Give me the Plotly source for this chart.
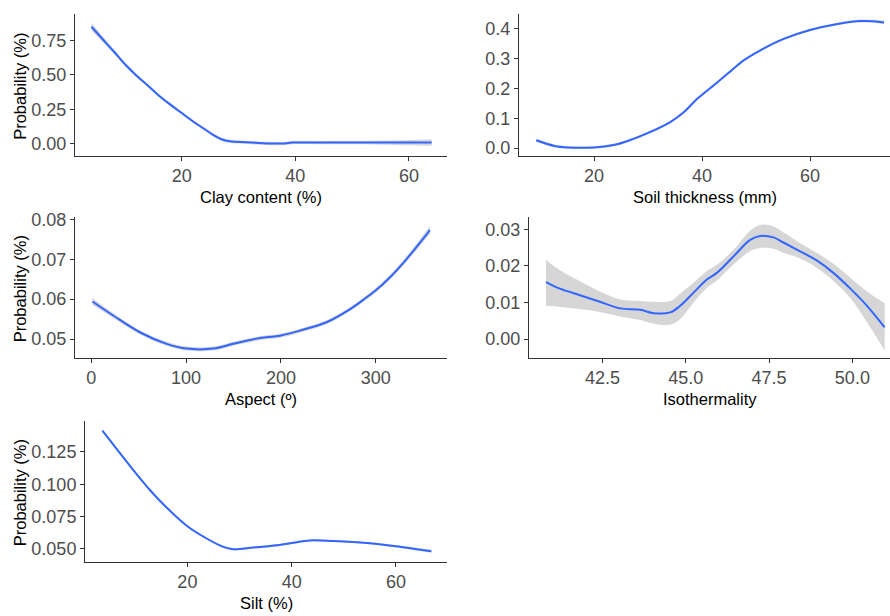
import plotly.graph_objects as go

W, H = 890, 616

# ---- Data ----
clay_x = [4.1, 6, 8, 10, 12, 14, 16, 18, 20, 22, 24, 25.5, 27, 28.5, 31.3, 33, 35, 36.5, 38.2, 39.4, 45, 50, 55, 60, 64]
clay_y = [0.85, 0.763, 0.672, 0.578, 0.497, 0.424, 0.35, 0.285, 0.224, 0.163, 0.108, 0.066, 0.034, 0.019, 0.012, 0.008, 0.004, 0.003, 0.004, 0.01, 0.01, 0.01, 0.01, 0.01, 0.01]
clay_se = [0.028, 0.022, 0.017, 0.014, 0.012, 0.011, 0.011, 0.011, 0.011, 0.011, 0.011, 0.011, 0.012, 0.012, 0.012, 0.012, 0.012, 0.012, 0.012, 0.012, 0.012, 0.013, 0.015, 0.019, 0.024]

soil_x = [9.3, 12.7, 15.2, 20, 23.6, 26.1, 29.8, 34.1, 36.6, 39.1, 42.8, 45.3, 47.7, 50.8, 55.1, 60, 65.6, 69.3, 71.7, 73.7]
soil_y = [0.026, 0.007, 0.002, 0.002, 0.01, 0.023, 0.049, 0.087, 0.12, 0.165, 0.22, 0.258, 0.294, 0.328, 0.366, 0.396, 0.418, 0.426, 0.425, 0.421]
soil_se = [0.006, 0.005, 0.004, 0.004, 0.004, 0.004, 0.004, 0.004, 0.004, 0.004, 0.004, 0.004, 0.004, 0.004, 0.004, 0.004, 0.004, 0.005, 0.005, 0.006]

asp_x = [1.4, 23.2, 51.3, 79.5, 100.6, 128.7, 149.8, 174.4, 200, 220, 248, 273, 286, 300, 315, 329, 343, 357]
asp_y = [0.0594, 0.0559, 0.0517, 0.0488, 0.0476, 0.0476, 0.0488, 0.0501, 0.0509, 0.0521, 0.0542, 0.0575, 0.0597, 0.0622, 0.0655, 0.0691, 0.0731, 0.0773]
asp_se = [0.0009, 0.0006, 0.0005, 0.0005, 0.0005, 0.0005, 0.0005, 0.0005, 0.0005, 0.0005, 0.0005, 0.0005, 0.0005, 0.0006, 0.0006, 0.0007, 0.0008, 0.0010]

iso_x = [40.8, 41.22, 41.82, 42.42, 43.03, 43.63, 44.03, 44.53, 44.83, 45.23, 45.63, 45.93, 46.43, 46.93, 47.23, 47.63, 47.93, 48.43, 48.93, 49.43, 49.94, 50.44, 50.97]
iso_y = [0.0156, 0.0138, 0.012, 0.0102, 0.0084, 0.008, 0.0071, 0.0073, 0.0091, 0.0127, 0.0163, 0.0181, 0.0226, 0.0271, 0.0282, 0.0278, 0.0264, 0.024, 0.0215, 0.0181, 0.0138, 0.0091, 0.0032]
iso_lo = [0.0091, 0.0088, 0.0082, 0.0074, 0.0062, 0.0052, 0.0042, 0.0039, 0.0055, 0.0100, 0.0140, 0.0160, 0.0204, 0.0240, 0.0249, 0.0247, 0.0236, 0.0220, 0.0195, 0.0159, 0.0112, 0.0046, -0.0031]
iso_hi = [0.0217, 0.0188, 0.0158, 0.0130, 0.0108, 0.0104, 0.0102, 0.0104, 0.0125, 0.0154, 0.0186, 0.0203, 0.0244, 0.0296, 0.0312, 0.0308, 0.0292, 0.0262, 0.0236, 0.0206, 0.0168, 0.0130, 0.0098]

silt_x = [3.7, 6.5, 9.6, 12.8, 16, 20, 23.7, 26.9, 28.8, 32.7, 37.2, 40, 43.5, 48, 54.4, 60, 64, 66.8]
silt_y = [0.1415, 0.127, 0.111, 0.0955, 0.082, 0.0675, 0.058, 0.0515, 0.0497, 0.051, 0.0527, 0.0545, 0.0565, 0.056, 0.0545, 0.052, 0.0497, 0.0482]
silt_se = [0.0012, 0.0010, 0.0009, 0.0008, 0.0008, 0.0008, 0.0008, 0.0008, 0.0008, 0.0008, 0.0008, 0.0008, 0.0008, 0.0008, 0.0008, 0.0009, 0.0010, 0.0012]

x_titles = ["Clay content (%)", "Soil thickness (mm)", "Aspect (º)", "Isothermality", "Silt (%)"]
y_title = "Probability (%)"

# ---- Layout geometry (pixels) ----
panels = [
    dict(x0=75, x1=447, y0=7, y1=151, xr=[1.2, 66.7], yr=[-0.086, 0.943],
         xt=[20, 40, 60], xtt=["20", "40", "60"], yt=[0, 0.25, 0.5, 0.75], ytt=["0.00", "0.25", "0.50", "0.75"], ytitle=True),
    dict(x0=519, x1=890, y0=7, y1=151, xr=[6.1, 74.8], yr=[-0.026, 0.45],
         xt=[20, 40, 60], xtt=["20", "40", "60"], yt=[0, 0.1, 0.2, 0.3, 0.4], ytt=["0.0", "0.1", "0.2", "0.3", "0.4"], ytitle=False),
    dict(x0=75, x1=447, y0=213, y1=356, xr=[-17, 375], yr=[0.0453, 0.0806],
         xt=[0, 100, 200, 300], xtt=["0", "100", "200", "300"], yt=[0.05, 0.06, 0.07, 0.08], ytt=["0.05", "0.06", "0.07", "0.08"], ytitle=True),
    dict(x0=529, x1=890, y0=213, y1=356, xr=[40.29, 51.13], yr=[-0.0051, 0.0334],
         xt=[42.5, 45, 47.5, 50], xtt=["42.5", "45.0", "47.5", "50.0"], yt=[0, 0.01, 0.02, 0.03], ytt=["0.00", "0.01", "0.02", "0.03"], ytitle=False),
    dict(x0=85, x1=447, y0=420, y1=563, xr=[0.36, 69.8], yr=[0.040, 0.149],
         xt=[20, 40, 60], xtt=["20", "40", "60"], yt=[0.05, 0.075, 0.1, 0.125], ytt=["0.050", "0.075", "0.100", "0.125"], ytitle=True),
]

series = [
    (clay_x, clay_y, [a - b for a, b in zip(clay_y, clay_se)], [a + b for a, b in zip(clay_y, clay_se)]),
    (soil_x, soil_y, [a - b for a, b in zip(soil_y, soil_se)], [a + b for a, b in zip(soil_y, soil_se)]),
    (asp_x, asp_y, [a - b for a, b in zip(asp_y, asp_se)], [a + b for a, b in zip(asp_y, asp_se)]),
    (iso_x, iso_y, iso_lo, iso_hi),
    (silt_x, silt_y, [a - b for a, b in zip(silt_y, silt_se)], [a + b for a, b in zip(silt_y, silt_se)]),
]

fig = go.Figure()
layout = dict(width=W, height=H, margin=dict(l=0, r=0, t=0, b=0),
              paper_bgcolor="white", plot_bgcolor="white", showlegend=False,
              font=dict(family="Liberation Sans, Arial, sans-serif"))
annotations = []

def px2x(p):
    return p / W

def px2y(p):
    return 1 - p / H

TICKFONT = dict(size=18, color="#4D4D4D", family="Liberation Sans, Arial, sans-serif")
TITLEFONT = dict(size=16.5, color="#000000", family="Liberation Sans, Arial, sans-serif")

for i, (p, (sx, sy, lo, hi)) in enumerate(zip(panels, series)):
    n = i + 1
    xa = "x" if n == 1 else f"x{n}"
    ya = "y" if n == 1 else f"y{n}"
    # ribbon: lower bound then upper bound filled to it
    fig.add_trace(go.Scatter(x=sx, y=lo, mode="lines", line=dict(width=0, shape="spline"),
                             hoverinfo="skip", xaxis=xa, yaxis=ya))
    fig.add_trace(go.Scatter(x=sx, y=hi, mode="lines", line=dict(width=0, shape="spline"),
                             fill="tonexty", fillcolor="rgba(153,153,153,0.4)",
                             hoverinfo="skip", xaxis=xa, yaxis=ya))
    fig.add_trace(go.Scatter(x=sx, y=sy, mode="lines", line=dict(color="#3366FF", width=2, shape="spline"),
                             xaxis=xa, yaxis=ya))
    common = dict(showgrid=False, zeroline=False, showline=True, linecolor="#333333", linewidth=1,
                  ticks="outside", ticklen=4, tickwidth=1, tickcolor="#333333", tickfont=TICKFONT)
    layout["xaxis" if n == 1 else f"xaxis{n}"] = dict(
        domain=[px2x(p["x0"]), px2x(p["x1"])], range=p["xr"], anchor=ya,
        tickmode="array", tickvals=p["xt"], ticktext=p["xtt"], **common)
    layout["yaxis" if n == 1 else f"yaxis{n}"] = dict(
        domain=[px2y(p["y1"]), px2y(p["y0"])], range=p["yr"], anchor=xa,
        tickmode="array", tickvals=p["yt"], ticktext=p["ytt"], **common)
    annotations.append(dict(text=x_titles[i], xref="paper", yref="paper",
                            x=px2x((p["x0"] + p["x1"]) / 2), y=px2y(p["y1"] + 42),
                            xanchor="center", yanchor="middle", showarrow=False, font=TITLEFONT))
    if p["ytitle"]:
        annotations.append(dict(text=y_title, xref="paper", yref="paper",
                                x=px2x(20), y=px2y((p["y0"] + p["y1"]) / 2 + 2),
                                xanchor="center", yanchor="middle", textangle=-90,
                                showarrow=False, font=TITLEFONT))

layout["annotations"] = annotations
fig.update_layout(**layout)
fig.write_html("out.html")
